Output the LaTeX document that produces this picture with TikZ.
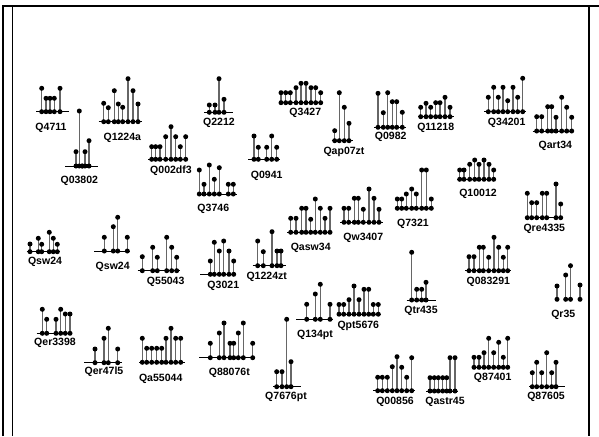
\documentclass[tikz,border=0pt]{standalone}
\usepackage{fontspec}
\setmainfont{Liberation Sans}
\usepackage{tikz}

\tikzset{
  framethick/.style={line width=1.6},
  framethin/.style={line width=0.8},
  axisline/.style={line width=0.75, color=black},
  stemline/.style={line width=0.95, color=black!60},
  qlabel/.style={font=\bfseries\fontsize{7.9}{9}\selectfont, inner sep=0.75pt},
}

% lollipop: #1 baseline y, #2 left end, #3 right end, #4 list of x/top
\newcommand{\lolli}[4]{%
  \draw[axisline] (#2,#1) -- (#3,#1);
  \foreach \sx/\st in {#4}{
    \draw[stemline] (\sx,#1) -- (\sx,\st);
    \fill (\sx,#1) circle (2.5);
    \fill (\sx,\st) circle (2.5);
  }
}

\begin{document}
\begin{tikzpicture}[x=0.75pt,y=0.75pt,yscale=-1,xscale=1]
\useasboundingbox (0,0) rectangle (599,436);

%Frame
\draw[framethick] (3.3,436) -- (3.3,6.3) -- (599,6.3) ;
\draw[framethin] (12.3,6.3) -- (12.3,436) ;
\draw[framethin] (589,6.3) -- (589,436) ;

%Lollipop Q4711
\lolli{111.7}{36}{69.3}{41.7/88.3, 46/98.3, 50/98.3, 54.3/98.3, 60/88.3}
%Lollipop Q1224a
\lolli{121.7}{98.7}{141.7}{103.7/103.3, 108.3/107.7, 114.3/90.7, 118.3/104, 122.7/107.3, 128/78.7, 133/90.7, 138/104}
%Lollipop Q03802
\lolli{166}{65}{98.3}{76/151.7, 79.3/111, 82.3/166, 85/151.7, 89/140.7}
%Lollipop Q002df3
\lolli{159.3}{148.3}{188.3}{151.7/146.7, 155.7/146.7, 160/146.7, 165.7/136.7, 171/126.7, 175.7/136.7, 180.3/146.7, 185.7/136.7}
%Lollipop Q2212
\lolli{112.3}{204.3}{233.3}{209.3/105, 215/105, 219/78.7, 224/99.3}
%Lollipop Q3427
\lolli{102.7}{281}{320.7}{281/92.7, 285.7/92.7, 290.3/92.7, 296/87.7, 301/83.3, 306/83.3, 311/87.7, 315.7/87.7, 320.7/92.7}
%Lollipop Qap07zt
\lolli{140.7}{331.7}{353.3}{334.7/130.7, 339.3/92.7, 344.3/107.3, 349/123.3}
%Lollipop Q0982
\lolli{127.3}{374}{406.3}{378/93.3, 383.3/112.7, 387.7/92.7, 392.3/101.7, 396.7/101.7, 402.3/112.3}
%Lollipop Q11218
\lolli{116.7}{418.3}{454.3}{420.7/107.3, 426/103.3, 430.7/107.3, 435.7/102.7, 440/102.7, 445/97.3, 450/107.3}
%Lollipop Q34201
\lolli{111.7}{484.3}{526}{488.3/97.3, 493.7/87.3, 498.3/97.3, 503/87.3, 507.7/100.7, 513/87.3, 517.7/97.3, 522.7/78.3}
%Lollipop Qart34
\lolli{131}{532.7}{573.3}{536.7/116.7, 541.7/116.7, 547.7/106.7, 551.7/106.7, 556/117.3, 561.7/97.3, 566.7/107.3, 571.7/117.3}
%Lollipop Q3746
\lolli{194}{196.7}{236.7}{199.3/170, 204/184.3, 209.3/165, 214.3/179.3, 219.3/167.7, 228.3/184.3, 233.3/184.3}
%Lollipop Q0941
\lolli{159.3}{248.3}{280}{254/136, 258.3/147.3, 266.7/147.3, 271.7/136, 276.7/147.3}
%Lollipop Q10012
\lolli{179.3}{457.3}{495.7}{459.7/170, 464/170, 469.7/164.3, 474.7/160, 479/164.3, 484/160, 489/164.3, 493.7/170}
%Lollipop Qre4335
\lolli{217.7}{525}{563.3}{527.3/193.3, 531.7/202.7, 536.7/202.7, 542.3/193.3, 546.7/193.3, 556/184, 560.7/204}
%Lollipop Q7321
\lolli{208.3}{395.7}{433}{397.3/199, 401.7/199, 406.3/194, 411.7/189, 416.3/194, 421.7/170, 426.3/170, 431.3/199}
%Lollipop Qw3407
\lolli{222.3}{340}{382.7}{344/208.3, 348.7/208.3, 354.3/198.3, 358.3/198.3, 363.3/209.3, 369/189, 374/198.3, 379/209.3}
%Lollipop Qasw34
\lolli{232.3}{287.3}{331.7}{290.7/218.3, 296/218.3, 301.7/208.3, 306/208.3, 310.7/219.3, 315.3/199, 320.3/208.3, 325/218.3, 330/208.3}
%Lollipop Q3021
\lolli{274.3}{200}{236}{210.3/261, 214.3/242.3, 219.3/251, 223.7/241, 229/251, 233.7/261}
%Lollipop Q1224zt
\lolli{265.7}{252.7}{286}{257.7/241, 263.3/251.7, 272/231.7, 277/251, 281/251}
%Lollipop Qsw24 (left)
\lolli{251.7}{26.7}{60}{30/244, 38.3/238.3, 41.7/244.3, 49.3/232.3, 53.3/238.3, 57.3/244.3}
%Lollipop Qsw24 (right)
\lolli{251}{94}{130}{104.3/237.3, 113.3/226.7, 117.7/217.3, 127.3/237.3}
%Lollipop Q55043
\lolli{270.7}{137.7}{180}{142.3/256.7, 152.7/247.3, 157.3/257.3, 166.7/237.3, 171.7/247.3, 176.7/257.3}
%Lollipop Qtr435
\lolli{300}{406.7}{436}{411.7/252.3, 416.7/289.3, 421.7/289.3, 426/282.3}
%Lollipop Q083291
\lolli{270.7}{465}{511}{469/256.7, 474/256.7, 479.3/247.3, 483.3/247.3, 488.7/257.3, 494/237.3, 498.7/247.3, 503.3/257.3, 507.7/247.3}
%Lollipop Qr35
\lolli{299.3}{556.7}{556.7}{557/286, 565.7/275, 570.5/265.7, 580/285}
%Lollipop Q134pt
\lolli{319.3}{296}{333.3}{306.7/304.3, 315.3/294, 320.3/284.3, 330/304.3}
%Lollipop Qpt5676
\lolli{314.2}{337}{381}{339/304.5, 343.7/304.5, 349/299.7, 354/286, 359/299.7, 364/289.3, 368.7/289.3, 373.3/304.5, 378.3/304.5}
%Lollipop Q88076t
\lolli{357.7}{199}{255}{210.3/343.3, 219.3/333, 224/323, 230/343.3, 233.7/343.3, 238.3/333, 243.3/323, 252.7/343.3}
%Lollipop Q7676pt
\lolli{386.7}{273.3}{301}{276.7/371.7, 282/371.7, 286.7/319.3, 291/361.7}
%Lollipop Q00856
\lolli{390.7}{373.3}{415}{377.7/377.3, 382.3/377.3, 387.3/377.3, 392.3/366.7, 397/356.7, 401.7/367.3, 406.7/377.3, 411.7/357.7}
%Lollipop Qastr45
\lolli{391}{426}{458.3}{430/377.7, 434.3/377.7, 438.3/377.7, 442.7/377.7, 446.7/377.7, 450/357.7, 455/357.7}
%Lollipop Q87401
\lolli{367.3}{471.7}{510}{474/357.3, 479/357.3, 484/352.7, 488.7/338.3, 493.7/352.7, 498.7/342.3, 503.3/357.3, 507.7/338.3}
%Lollipop Q87605
\lolli{386.7}{529.3}{565}{532.3/372.7, 536.7/362.3, 541.7/372.7, 546.7/352.7, 551.7/372.7, 556/362.3}
%Lollipop Qer3398
\lolli{333.3}{36.7}{71.7}{42.3/309.3, 46.7/319.3, 56/319.3, 60.7/309.3, 65.3/314, 70/314}
%Lollipop Qer47l5
\lolli{362.7}{84}{121.7}{95/349, 104/338.3, 108.3/328.3, 117.7/349}
%Lollipop Qa55044
\lolli{362.3}{139.3}{185}{142.3/338.3, 146.7/348.3, 151.7/348.3, 156.7/348.3, 161.7/348.3, 166/338.3, 171/328.3, 175.7/338.3, 180.7/338.3}

% Text Nodes
\node[qlabel] (q4711) at (51,128) {Q4711};
\node[qlabel] (q1224a) at (122.3,137.7) {Q1224a};
\node[qlabel] (q03802) at (79.3,181) {Q03802};
\node[qlabel] (q002df3) at (171,171) {Q002df3};
\node[qlabel] (q2212) at (219,123.3) {Q2212};
\node[qlabel] (q3427) at (305.3,113.3) {Q3427};
\node[qlabel] (qap07zt) at (344,152.3) {Qap07zt};
\node[qlabel] (q0982) at (390.7,137.3) {Q0982};
\node[qlabel] (q11218) at (435.7,127.7) {Q11218};
\node[qlabel] (q34201) at (506.7,123.3) {Q34201};
\node[qlabel] (qart34) at (555.3,146.3) {Qart34};
\node[qlabel] (q3746) at (213.3,209.3) {Q3746};
\node[qlabel] (q0941) at (266.7,176) {Q0941};
\node[qlabel] (q10012) at (478,194.3) {Q10012};
\node[qlabel] (qre4335) at (544.3,229.3) {Qre4335};
\node[qlabel] (q7321) at (413,224) {Q7321};
\node[qlabel] (qw3407) at (363.3,238.3) {Qw3407};
\node[qlabel] (qasw34) at (310.7,248.3) {Qasw34};
\node[qlabel] (q3021) at (223.3,286) {Q3021};
\node[qlabel] (q1224zt) at (266.7,277.3) {Q1224zt};
\node[qlabel] (qswA) at (45,261.7) {Qsw24};
\node[qlabel] (qswB) at (112.7,267.3) {Qsw24};
\node[qlabel] (q55043) at (165.7,282.3) {Q55043};
\node[qlabel] (qtr435) at (421,310.7) {Qtr435};
\node[qlabel] (q083291) at (488.3,281.7) {Q083291};
\node[qlabel] (qr35) at (563.3,315) {Qr35};
\node[qlabel] (q134pt) at (315,335) {Q134pt};
\node[qlabel] (qpt5676) at (358.3,325.7) {Qpt5676};
\node[qlabel] (q88076t) at (229.3,372.7) {Q88076t};
\node[qlabel] (q7676pt) at (286,397.3) {Q7676pt};
\node[qlabel] (q00856) at (395,402.3) {Q00856};
\node[qlabel] (qastr45) at (445,402.3) {Qastr45};
\node[qlabel] (q87401) at (492.7,378.3) {Q87401};
\node[qlabel] (q87605) at (546,396.7) {Q87605};
\node[qlabel] (qer3398) at (55,343.3) {Qer3398};
\node[qlabel] (qer47l5) at (104,371.7) {Qer47l5};
\node[qlabel] (qa55044) at (160.7,379.3) {Qa55044};

\end{tikzpicture}
\end{document}
